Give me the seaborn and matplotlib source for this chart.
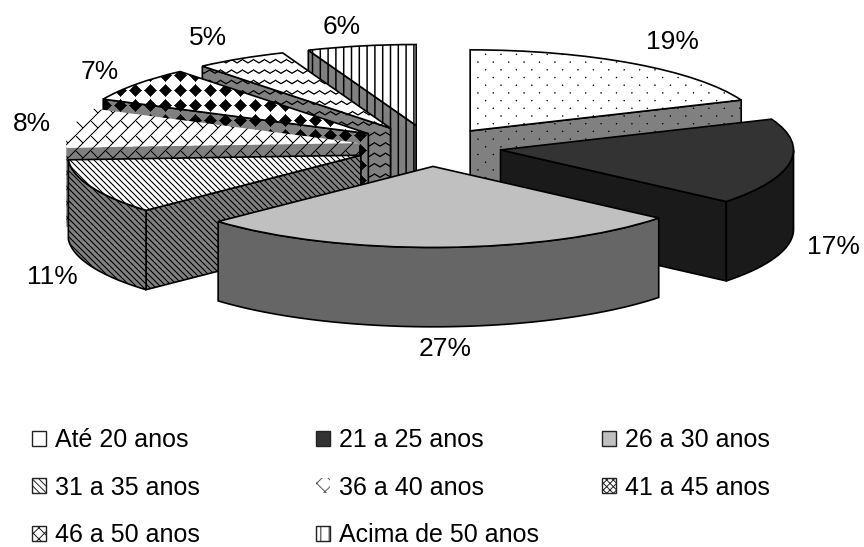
#!/usr/bin/env python3

import numpy as np
import matplotlib
matplotlib.use('Agg')
import matplotlib.pyplot as plt
from matplotlib.patches import Patch, Polygon
import seaborn as sns

# data (labels show them rounded)
categories = ['Até 20 anos', '21 a 25 anos', '26 a 30 anos', '31 a 35 anos',
              '36 a 40 anos', '41 a 45 anos', '46 a 50 anos', 'Acima de 50 anos']
percents = [18.8, 17.2, 27.1, 11.0, 7.9, 6.9, 5.1, 6.0]

W, H = 864, 547
RX, RY = 293.0, 81.0        # pixels per data unit
CX, CY = 431.0, 147.0       # pie centre in pixels
DEPTH = 0.98
explode = [0.24, 0.24, 0.24, 0.26, 0.25, 0.27, 0.27, 0.27]

top_bg = ['#ffffff', '#333333', '#c0c0c0', '#ffffff', '#ffffff', '#ffffff', '#ffffff', '#ffffff']
wall_bg = ['#808080', '#1a1a1a', '#666666', '#808080', '#808080', '#808080', '#808080', '#808080']
kinds = ['dots', 'flat', 'flat', 'diag', 'brick', 'diamonds', 'zigzag', 'vert']
draw_order = [7, 0, 6, 5, 4, 1, 3, 2]
outlined = [True, True, True, True, False, True, True, True]

legend_hatch = ['', '', '', '\\\\\\\\\\', 'xx', 'xxxxx', 'xxx', '||']
legend_cols = [[0, 3, 6], [1, 4, 7], [2, 5]]
legend_x = [32, 316, 602]

label_xy = [(672, 42), (833, 247), (445, 349), (52, 277),
            (32, 124), (100, 72), (208, 38), (342, 27)]

yy, xx = np.mgrid[0:H, 0:W].astype(float)


def band(v, period, width):
    # soft line of given width repeated every period
    d = np.abs((v + period / 2) % period - period / 2)
    return np.clip(width / 2 + 0.5 - d, 0, 1)


def ink(kind):
    if kind == 'flat':
        return np.zeros_like(xx)
    if kind == 'dots':
        p = 15.4
        a = np.hypot((xx + p / 2) % p - p / 2, (yy + p / 2) % p - p / 2)
        b = np.hypot((xx) % p - p / 2, (yy) % p - p / 2)
        return np.clip(1.2 - np.minimum(a, b), 0, 1)
    if kind == 'diag':
        return band(xx - yy, 6.0, 1.6)
    if kind == 'vert':
        return band(xx, 7.8, 1.5)
    if kind == 'zigzag':
        tri = np.abs((xx % 11) - 5.5) * 0.6
        return band(yy + tri, 10.4, 1.5)
    if kind == 'diamonds':
        p = 15.0
        d = np.abs((xx + p / 2) % p - p / 2) + np.abs((yy + p / 2) % p - p / 2)
        return np.clip(6.8 - d, 0, 1)
    if kind == 'brick':
        p = 15.0
        s = (xx + yy) / p
        row = np.floor(s)
        lines = band(xx + yy, p, 1.5)
        cross = band(xx - yy + p * (row % 2), 2 * p, 1.5)
        return np.maximum(lines, cross)
    raise ValueError(kind)


def texture(kind, bg):
    rgb = np.array(matplotlib.colors.to_rgb(bg))
    return (rgb[None, None, :] * (1 - ink(kind))[:, :, None])


sns.set_theme(style='white')
plt.rcParams['font.family'] = ['Liberation Sans', 'DejaVu Sans']
plt.rcParams['hatch.linewidth'] = 0.7

fig = plt.figure(figsize=(W / 100, H / 100), dpi=100)
ax = fig.add_axes([0, 0, 1, 1])

wedges, _ = ax.pie(percents, explode=explode, startangle=90,
                   counterclock=False, radius=1,
                   wedgeprops={'facecolor': 'none', 'edgecolor': 'black', 'linewidth': 1.2})

xlim = (-CX / RX, (W - CX) / RX)
ylim = (-(H - CY) / RY, CY / RY)
extent = (xlim[0], xlim[1], ylim[0], ylim[1])


def paint(tex, clip_patch, z, edge=True):
    im = ax.imshow(tex, extent=extent, origin='upper', aspect='auto',
                   interpolation='nearest', zorder=z)
    im.set_clip_path(clip_patch)
    clip_patch.set_zorder(z + 0.1)
    if not edge:
        clip_patch.set_edgecolor('none')


z = 1
for i in draw_order:
    w = wedges[i]
    cx, cy = w.center
    t1, t2 = w.theta1, w.theta2
    wall_tex = texture(kinds[i], wall_bg[i])

    # radial cut faces, only those turned towards the viewer
    for t, normal in [(t1, t1 - 90), (t2, t2 + 90)]:
        if np.sin(np.radians(normal)) < 0:
            px = cx + np.cos(np.radians(t))
            py = cy + np.sin(np.radians(t))
            pts = [(cx, cy), (px, py), (px, py - DEPTH), (cx, cy - DEPTH)]
            face = Polygon(pts, closed=True, facecolor='none', edgecolor='black',
                           linewidth=1.2)
            ax.add_patch(face)
            paint(wall_tex, face, z, outlined[i])
            z += 1

    # outer wall, front half of the arc
    ts = np.radians(np.linspace(t1, t2, 240))
    ts = ts[np.sin(ts) < 0]
    if len(ts) > 1:
        ax_pts = np.column_stack([cx + np.cos(ts), cy + np.sin(ts)])
        low = ax_pts[::-1] - [0, DEPTH]
        wall = Polygon(np.vstack([ax_pts, low]), closed=True, facecolor='none',
                       edgecolor='black', linewidth=1.2)
        ax.add_patch(wall)
        paint(wall_tex, wall, z, outlined[i])
        z += 1

    paint(texture(kinds[i], top_bg[i]), w, z, outlined[i])
    z += 1

ax.set_aspect('auto')
ax.set_xlim(xlim)
ax.set_ylim(ylim)
ax.set_axis_off()

for (x, y), p in zip(label_xy, percents):
    fig.text(x / W, 1 - y / H, f'{round(p)}%', fontsize=19, ha='center', va='center',
             color='black')

# one legend per column so the columns keep their own spacing
for x0, col in zip(legend_x, legend_cols):
    handles = [Patch(facecolor=top_bg[r], edgecolor='#555555' if r == 4 else '#222222',
                     hatch=legend_hatch[r], linewidth=0 if r == 4 else 1.0) for r in col]
    fig.legend(handles, [categories[r] for r in col], loc='upper left',
               bbox_to_anchor=(x0 / W, 1 - 428 / H), bbox_transform=fig.transFigure,
               frameon=False, fontsize=18, handlelength=0.55, handleheight=0.55,
               handletextpad=0.38, labelspacing=0.95, borderpad=0, borderaxespad=0,
               labelcolor='black')

fig.savefig('out.png', dpi=100, facecolor='white')
